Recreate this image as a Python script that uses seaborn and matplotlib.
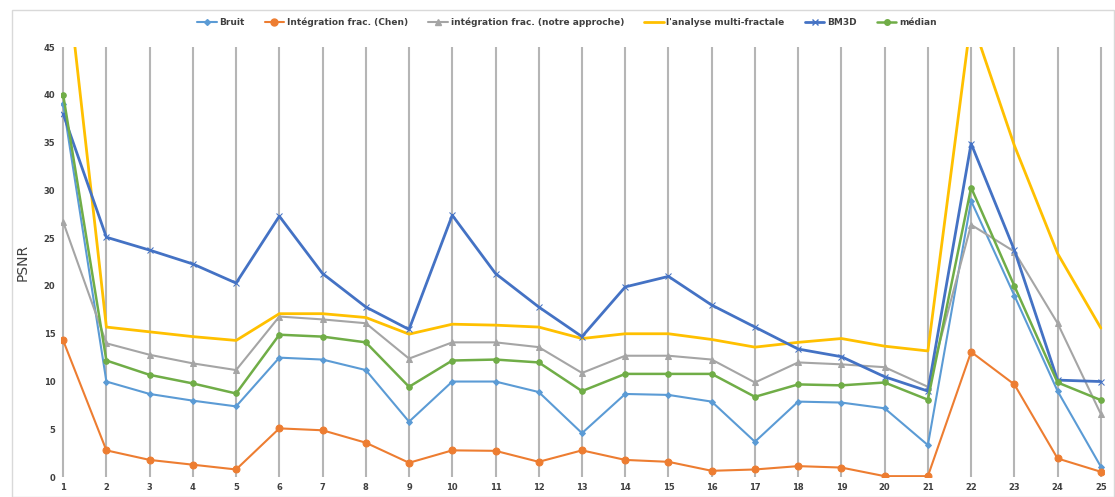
import matplotlib
matplotlib.use("Agg")
import matplotlib.pyplot as plt
import seaborn as sns
import pandas as pd
from matplotlib.patches import Rectangle
from matplotlib.lines import Line2D

categories = list(range(1, 26))

bruit = [39.0, 10.0, 8.7, 8.0, 7.4, 12.5, 12.3, 11.2, 5.8, 10.0, 10.0, 8.9, 4.6,
         8.7, 8.6, 7.9, 3.7, 7.9, 7.8, 7.2, 3.35, 28.9, 19.0, 9.0, 1.1]
chen = [14.3, 2.8, 1.8, 1.3, 0.8, 5.1, 4.9, 3.6, 1.5, 2.8, 2.75, 1.6, 2.8,
        1.8, 1.6, 0.66, 0.8, 1.15, 1.0, 0.1, 0.1, 13.1, 9.7, 1.95, 0.56]
notre = [26.7, 14.0, 12.8, 11.9, 11.2, 16.8, 16.5, 16.1, 12.4, 14.1, 14.1, 13.6, 10.9,
         12.7, 12.7, 12.3, 9.9, 12.0, 11.8, 11.5, 9.45, 26.4, 23.6, 16.1, 6.6]
multifrac = [56.0, 15.7, 15.2, 14.7, 14.3, 17.1, 17.1, 16.7, 14.96, 16.0, 15.9, 15.7, 14.5,
             15.0, 15.0, 14.4, 13.6, 14.1, 14.5, 13.7, 13.2, 48.0, 34.7, 23.4, 15.6]
bm3d = [38.0, 25.1, 23.75, 22.3, 20.3, 27.3, 21.3, 17.8, 15.45, 27.4, 21.3, 17.8, 14.7,
        19.9, 21.0, 18.0, 15.7, 13.4, 12.6, 10.5, 9.0, 34.9, 23.75, 10.15, 10.0]
median = [40.0, 12.2, 10.7, 9.8, 8.75, 14.9, 14.7, 14.1, 9.45, 12.2, 12.3, 12.0, 9.0,
          10.8, 10.8, 10.8, 8.4, 9.7, 9.6, 9.9, 8.1, 30.3, 20.0, 9.9, 8.06]

series_names = ["Bruit", "Intégration frac. (Chen)", "intégration frac. (notre approche)",
                "l'analyse multi-fractale", "BM3D", "médian"]
series_values = [bruit, chen, notre, multifrac, bm3d, median]
colors = ["#5B9BD5", "#ED7D31", "#A5A5A5", "#FFC000", "#4472C4", "#70AD47"]
markers = ["D", "o", "^", None, "x", "o"]
msizes = [3, 5, 4, 0, 4, 4]
lwidths = [1.5, 1.5, 1.5, 2.0, 2.0, 1.8]

sns.set_theme(style="white")
plt.rcParams['font.family'] = ['DejaVu Sans']

fig = plt.figure(figsize=(11.15, 4.97), dpi=100)
ax = fig.add_axes([0.0547, 0.040, 0.9353, 0.8654])

# chart border
fig.patches.append(Rectangle((12 / 1115, 0.0), 1 - 12 / 1115 - 0.001, 1 - 10 / 497,
                             transform=fig.transFigure, fill=False,
                             edgecolor="#D9D9D9", linewidth=1.0))

handles = []
for name, vals, c, m, ms, lw in zip(series_names, series_values, colors, markers, msizes, lwidths):
    df = pd.DataFrame({"x": categories, "y": vals})
    sns.lineplot(data=df, x="x", y="y", ax=ax, color=c, linewidth=lw,
                 marker=m if m else None, markersize=ms,
                 markeredgecolor=c, markerfacecolor=c, legend=False)
    handles.append(Line2D([0], [0], color=c, linewidth=lw, marker=m if m else None,
                          markersize=ms, markeredgecolor=c, markerfacecolor=c, label=name))

ax.set_xlim(0.95, 25.07)
ax.set_ylim(0, 45)
ax.set_xticks(categories)
ax.set_xticklabels([str(c) for c in categories])
ax.set_yticks(range(0, 46, 5))
ax.tick_params(axis="both", labelsize=6, colors="#404040", length=0, pad=4)
for lbl in ax.get_xticklabels() + ax.get_yticklabels():
    lbl.set_fontweight("bold")
ax.grid(axis="x", color="#B5B5B5", linewidth=1.5, zorder=0)
ax.grid(axis="y", visible=False)
ax.set_axisbelow(True)
for s in ax.spines.values():
    s.set_visible(False)
ax.set_xlabel("")
ax.set_ylabel("PSNR", fontsize=10, color="#404040", labelpad=10)

leg = ax.legend(handles=handles, loc="center", bbox_to_anchor=(0.485, 1.058), ncol=6,
                frameon=False, fontsize=6.5, handlelength=2.2, columnspacing=2.2,
                handletextpad=0.3)
for t in leg.get_texts():
    t.set_color("#404040")
    t.set_fontweight("bold")

fig.savefig("out.png", dpi=100)
